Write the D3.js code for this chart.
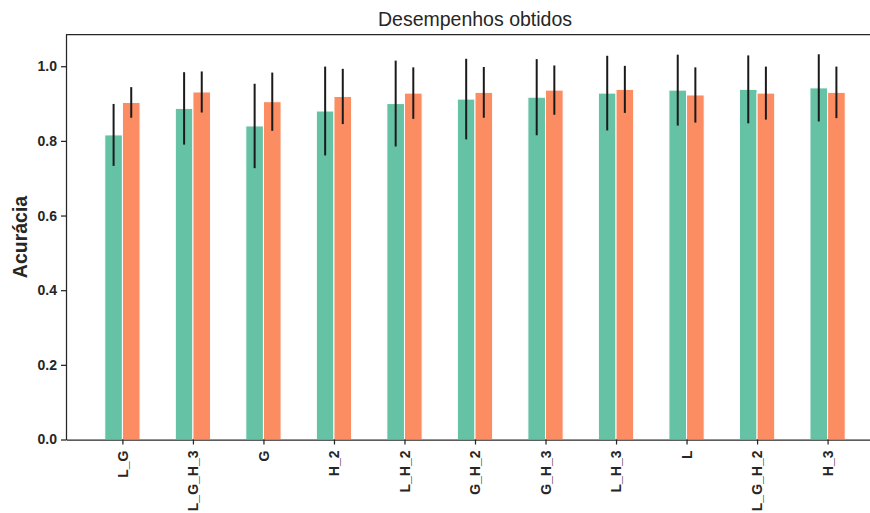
<!DOCTYPE html>
<html>
<head>
<meta charset="utf-8">
<script src="https://cdn.jsdelivr.net/npm/d3@7"></script>
<style>
  body { margin: 0; background: #fff; }
  text { font-family: "Liberation Sans", Arial, sans-serif; fill: #262626; }
</style>
</head>
<body>
<div id="main"></div>
<script>
var categories = ["L_G", "L_G_H_3", "G", "H_2", "L_H_2", "G_H_2", "G_H_3", "L_H_3", "L", "L_G_H_2", "H_3"];
// first series (green) and second series (orange): mean accuracy and half-length of the error bar
var greenMeans = [0.816, 0.887, 0.840, 0.880, 0.900, 0.912, 0.917, 0.928, 0.936, 0.938, 0.942];
var greenErr   = [0.083, 0.097, 0.113, 0.119, 0.115, 0.108, 0.102, 0.100, 0.095, 0.091, 0.090];
var orangeMeans = [0.903, 0.931, 0.905, 0.919, 0.928, 0.930, 0.936, 0.938, 0.923, 0.928, 0.930];
var orangeErr   = [0.041, 0.055, 0.078, 0.074, 0.069, 0.068, 0.066, 0.063, 0.074, 0.071, 0.069];
var yTicks = [0.0, 0.2, 0.4, 0.6, 0.8, 1.0];

var width = 870, height = 513;
var svg = d3.select("#main").append("svg")
  .attr("width", width).attr("height", height);

var plotLeft = 66, plotRight = 884, plotTop = 34.5, plotBottom = 439.5;

var x = d3.scaleLinear().domain([-0.8, categories.length - 0.2]).range([plotLeft, plotRight]);
var y = d3.scaleLinear().domain([0, 1.085]).range([plotBottom, plotTop]);
var barW = x(0.25) - x(0);

var series = [
  { means: greenMeans, err: greenErr, color: "#66c2a5", offset: -0.125 },
  { means: orangeMeans, err: orangeErr, color: "#fc8d62", offset: 0.125 }
];

var plot = svg.append("g");

series.forEach(function (s) {
  plot.selectAll(null).data(s.means).enter().append("rect")
    .attr("x", function (d, i) { return x(i + s.offset) - barW / 2; })
    .attr("y", function (d) { return y(d); })
    .attr("width", barW)
    .attr("height", function (d) { return y(0) - y(d); })
    .attr("fill", s.color)
    .attr("stroke", "white")
    .attr("stroke-width", 1);
});

series.forEach(function (s) {
  plot.selectAll(null).data(s.means).enter().append("line")
    .attr("x1", function (d, i) { return x(i + s.offset); })
    .attr("x2", function (d, i) { return x(i + s.offset); })
    .attr("y1", function (d, i) { return y(d - s.err[i]); })
    .attr("y2", function (d, i) { return y(d + s.err[i]); })
    .attr("stroke", "#1a1a1a")
    .attr("stroke-width", 2);
});

// top spine
svg.append("line").attr("x1", plotLeft).attr("x2", plotRight).attr("y1", plotTop).attr("y2", plotTop)
  .attr("stroke", "#262626").attr("stroke-width", 1.25);

var yAxis = svg.append("g")
  .attr("transform", "translate(" + plotLeft + ",0)")
  .call(d3.axisLeft(y).tickValues(yTicks).tickFormat(d3.format(".1f"))
    .tickSize(5).tickSizeOuter(0).tickPadding(4));

var xAxis = svg.append("g")
  .attr("transform", "translate(0," + plotBottom + ")")
  .call(d3.axisBottom(x).tickValues(d3.range(categories.length))
    .tickFormat(function (i) { return categories[i]; }).tickSize(5).tickSizeOuter(0));

[xAxis, yAxis].forEach(function (ax) {
  ax.select(".domain").attr("stroke", "#262626").attr("stroke-width", 1.25);
  ax.selectAll(".tick line").attr("stroke", "#262626").attr("stroke-width", 1.25);
  ax.selectAll("text")
    .style("font-family", "'Liberation Sans', Arial, sans-serif")
    .style("font-size", "14px").style("font-weight", "bold").attr("fill", "#262626");
});

xAxis.selectAll(".tick text")
  .attr("text-anchor", "end")
  .attr("transform", "rotate(-90)")
  .attr("x", -11)
  .attr("y", 0)
  .attr("dy", "0.35em");

svg.append("text")
  .attr("x", (plotLeft + plotRight) / 2).attr("y", 26)
  .attr("text-anchor", "middle")
  .style("font-size", "19.5px")
  .text("Desempenhos obtidos");

svg.append("text")
  .attr("transform", "translate(27," + (plotTop + plotBottom) / 2 + ") rotate(-90)")
  .attr("text-anchor", "middle")
  .style("font-size", "19.5px").style("font-weight", "bold")
  .text("Acurácia");
</script>
</body>
</html>
